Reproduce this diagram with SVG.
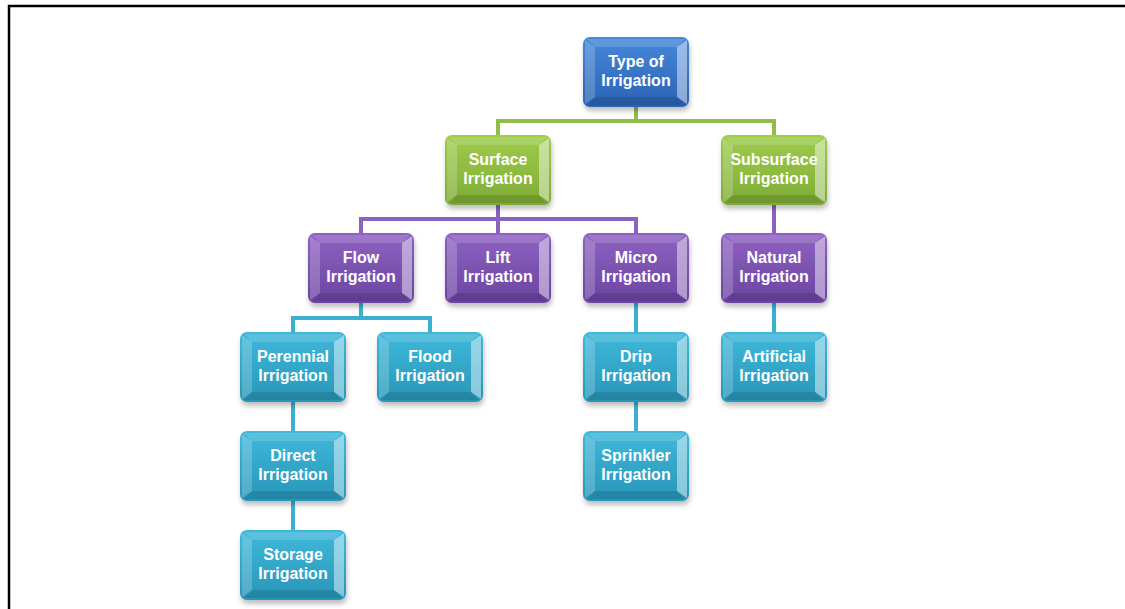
<svg xmlns="http://www.w3.org/2000/svg" width="1125" height="609" viewBox="0 0 1125 609">
<style>
  .t { font-family: "Liberation Sans", Arial, sans-serif; font-weight: bold; font-size: 16px; fill: #ffffff; text-anchor: middle; }
  .hl { fill: #ffffff; }
  .sh { fill: #000000; }
  .cg { stroke: #8fbd45; stroke-width: 4; fill: none; }
  .cp { stroke: #8a62c0; stroke-width: 4; fill: none; }
  .cc { stroke: #3cb0d2; stroke-width: 4; fill: none; }
  .drop { fill: #000000; fill-opacity: 0.25; filter: url(#blur); }
</style>
<defs>
  <filter id="blur" x="-20%" y="-20%" width="140%" height="160%"><feGaussianBlur stdDeviation="2.5"/></filter>
  <linearGradient id="gBlue" x1="0" y1="0" x2="0" y2="1"><stop offset="0" stop-color="#4688da"/><stop offset="1" stop-color="#2a63b3"/></linearGradient>
  <linearGradient id="gGreen" x1="0" y1="0" x2="0" y2="1"><stop offset="0" stop-color="#9fcc4c"/><stop offset="1" stop-color="#7eab35"/></linearGradient>
  <linearGradient id="gPurple" x1="0" y1="0" x2="0" y2="1"><stop offset="0" stop-color="#8e62c2"/><stop offset="1" stop-color="#6c44a2"/></linearGradient>
  <linearGradient id="gCyan" x1="0" y1="0" x2="0" y2="1"><stop offset="0" stop-color="#40b8da"/><stop offset="1" stop-color="#2896b8"/></linearGradient>
  <rect id="shadow" class="drop" x="1" y="4" width="106" height="70" rx="7"/>
  <g id="bevel">
    <polygon class="hl" fill-opacity="0.2" points="2,3 12,10 12,60 2,67"/>
    <polygon class="hl" fill-opacity="0.45" points="104,3 94,10 94,60 104,67"/>
    <polygon class="hl" fill-opacity="0.15" points="4,2 102,2 94,10 12,10"/>
    <polygon class="sh" fill-opacity="0.12" points="4,68 102,68 94,60 12,60"/>
  </g>
</defs>
<rect x="0" y="0" width="1125" height="609" fill="#ffffff"/>
<path d="M9,609 V6 H1125" fill="none" stroke="#000000" stroke-width="2.5"/>

<g id="connectors">
  <path class="cg" d="M636,106 V121 M498,121 H774 M498,119 V136 M774,119 V136"/>
  <path class="cp" d="M498,205 V219 M361,219 H636 M361,217 V234 M498,217 V234 M636,217 V234 M774,205 V234"/>
  <path class="cc" d="M361,303 V318 M293,318 H430 M293,316 V333 M430,316 V333 M293,402 V432 M293,501 V531 M636,303 V333 M636,402 V432 M774,303 V333"/>
</g>

<g id="n-type" transform="translate(583,37)">
  <use href="#shadow"/><rect width="106" height="70" rx="7" fill="url(#gBlue)"/><use href="#bevel"/>
  <text class="t" x="53" y="30">Type of</text><text class="t" x="53" y="49">Irrigation</text>
</g>
<g id="n-surface" transform="translate(445,135)">
  <use href="#shadow"/><rect width="106" height="70" rx="7" fill="url(#gGreen)"/><use href="#bevel"/>
  <text class="t" x="53" y="30">Surface</text><text class="t" x="53" y="49">Irrigation</text>
</g>
<g id="n-subsurface" transform="translate(721,135)">
  <use href="#shadow"/><rect width="106" height="70" rx="7" fill="url(#gGreen)"/><use href="#bevel"/>
  <text class="t" x="53" y="30">Subsurface</text><text class="t" x="53" y="49">Irrigation</text>
</g>
<g id="n-flow" transform="translate(308,233)">
  <use href="#shadow"/><rect width="106" height="70" rx="7" fill="url(#gPurple)"/><use href="#bevel"/>
  <text class="t" x="53" y="30">Flow</text><text class="t" x="53" y="49">Irrigation</text>
</g>
<g id="n-lift" transform="translate(445,233)">
  <use href="#shadow"/><rect width="106" height="70" rx="7" fill="url(#gPurple)"/><use href="#bevel"/>
  <text class="t" x="53" y="30">Lift</text><text class="t" x="53" y="49">Irrigation</text>
</g>
<g id="n-micro" transform="translate(583,233)">
  <use href="#shadow"/><rect width="106" height="70" rx="7" fill="url(#gPurple)"/><use href="#bevel"/>
  <text class="t" x="53" y="30">Micro</text><text class="t" x="53" y="49">Irrigation</text>
</g>
<g id="n-natural" transform="translate(721,233)">
  <use href="#shadow"/><rect width="106" height="70" rx="7" fill="url(#gPurple)"/><use href="#bevel"/>
  <text class="t" x="53" y="30">Natural</text><text class="t" x="53" y="49">Irrigation</text>
</g>
<g id="n-perennial" transform="translate(240,332)">
  <use href="#shadow"/><rect width="106" height="70" rx="7" fill="url(#gCyan)"/><use href="#bevel"/>
  <text class="t" x="53" y="30">Perennial</text><text class="t" x="53" y="49">Irrigation</text>
</g>
<g id="n-flood" transform="translate(377,332)">
  <use href="#shadow"/><rect width="106" height="70" rx="7" fill="url(#gCyan)"/><use href="#bevel"/>
  <text class="t" x="53" y="30">Flood</text><text class="t" x="53" y="49">Irrigation</text>
</g>
<g id="n-drip" transform="translate(583,332)">
  <use href="#shadow"/><rect width="106" height="70" rx="7" fill="url(#gCyan)"/><use href="#bevel"/>
  <text class="t" x="53" y="30">Drip</text><text class="t" x="53" y="49">Irrigation</text>
</g>
<g id="n-artificial" transform="translate(721,332)">
  <use href="#shadow"/><rect width="106" height="70" rx="7" fill="url(#gCyan)"/><use href="#bevel"/>
  <text class="t" x="53" y="30">Artificial</text><text class="t" x="53" y="49">Irrigation</text>
</g>
<g id="n-direct" transform="translate(240,431)">
  <use href="#shadow"/><rect width="106" height="70" rx="7" fill="url(#gCyan)"/><use href="#bevel"/>
  <text class="t" x="53" y="30">Direct</text><text class="t" x="53" y="49">Irrigation</text>
</g>
<g id="n-sprinkler" transform="translate(583,431)">
  <use href="#shadow"/><rect width="106" height="70" rx="7" fill="url(#gCyan)"/><use href="#bevel"/>
  <text class="t" x="53" y="30">Sprinkler</text><text class="t" x="53" y="49">Irrigation</text>
</g>
<g id="n-storage" transform="translate(240,530)">
  <use href="#shadow"/><rect width="106" height="70" rx="7" fill="url(#gCyan)"/><use href="#bevel"/>
  <text class="t" x="53" y="30">Storage</text><text class="t" x="53" y="49">Irrigation</text>
</g>
</svg>
